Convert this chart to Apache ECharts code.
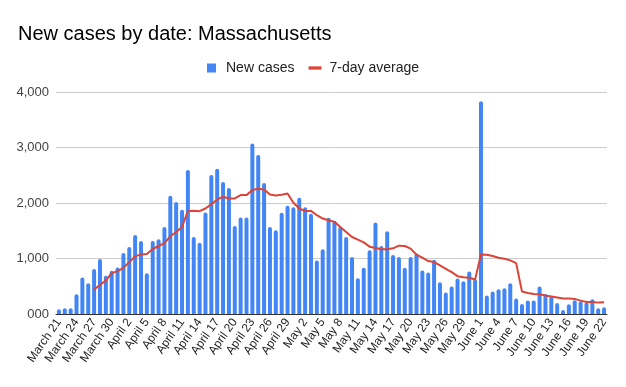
<!DOCTYPE html>
<html>
<head>
<meta charset="utf-8">
<script src="https://cdn.jsdelivr.net/npm/echarts@6/dist/echarts.min.js"></script>
<style>html,body{margin:0;padding:0;background:#fff}#c{width:626px;height:387px}</style>
</head>
<body>
<div id="c"></div>
<script>
// Date categories: March 21 .. June 22
const monthSpans = [["March", 21, 31], ["April", 1, 30], ["May", 1, 31], ["June", 1, 22]];
const categories = [];
monthSpans.forEach(([m, a, b]) => { for (let d = a; d <= b; d++) categories.push(m + " " + d); });

const newCases = [
  85, 103, 103, 356, 658, 555, 809, 990, 688, 778,
  839, 1098, 1207, 1424, 1316, 736, 1316, 1346, 1569, 2130,
  2016, 1877, 2595, 1388, 1285, 1829, 2505, 2619, 2378, 2269,
  1587, 1738, 1738, 3072, 2867, 2360, 1569, 1509, 1823, 1949,
  1925, 2094, 1925, 1805, 966, 1165, 1732, 1678, 1569, 1388,
  1026, 646, 833, 1147, 1648, 1225, 1491, 1062, 1026, 833,
  1026, 1092, 785, 748, 978, 573, 386, 495, 640, 591,
  766, 628, 3832, 332, 404, 447, 465, 555, 278, 181,
  241, 241, 495, 362, 314, 199, 72, 175, 247, 229,
  205, 266, 103, 121
];

const avg7 = [
  null, null, null, null, null, null, 435, 525, 603, 736,
  772, 833, 935, 1038, 1074, 1080, 1171, 1225, 1279, 1400,
  1478, 1569, 1853, 1859, 1853, 1901, 1979, 2064, 2112, 2082,
  2082, 2142, 2142, 2233, 2257, 2245, 2155, 2136, 2148, 2172,
  2004, 1901, 1853, 1859, 1780, 1720, 1690, 1660, 1569, 1478,
  1388, 1340, 1291, 1213, 1189, 1165, 1165, 1183, 1231, 1225,
  1177, 1068, 1014, 954, 935, 875, 815, 754, 682, 664,
  652, 622, 1074, 1068, 1044, 1014, 996, 966, 917, 404,
  380, 362, 356, 332, 314, 296, 278, 278, 272, 241,
  217, 217, 205, 211
];

const yTicks = [0, 1000, 2000, 3000, 4000];

const chart = echarts.init(document.getElementById('c'));
chart.setOption({
  animation: false,
  backgroundColor: '#fff',
  textStyle: { fontFamily: 'Liberation Sans, Arial, sans-serif' },
  title: {
    text: 'New cases by date: Massachusetts',
    left: 13, top: 19,
    textStyle: { fontSize: 20, fontWeight: 'normal', color: '#000', fontFamily: 'Liberation Sans, Arial, sans-serif' }
  },
  legend: {
    top: 56, left: 'center',
    itemGap: 14,
    symbolKeepAspect: true,
    textStyle: { fontSize: 14, color: '#222', fontFamily: 'Liberation Sans, Arial, sans-serif', padding: [0, 0, 0, 3] },
    itemWidth: 13, itemHeight: 9,
    data: [
      { name: 'New cases', icon: 'path://M0,0h10v10h-10z', itemStyle: { color: '#4285F4' } },
      { name: '7-day average', icon: 'path://M0,0h12v3h-12z', itemStyle: { color: '#DB4437' } }
    ]
  },
  grid: { left: 56, right: 19, top: 92, bottom: 73, containLabel: false },
  xAxis: {
    type: 'category',
    data: categories,
    boundaryGap: true,
    axisLine: { lineStyle: { color: '#333', width: 1 } },
    axisTick: { show: false },
    axisLabel: {
      interval: 2, rotate: 55, fontSize: 12, color: '#222', margin: 6,
      fontFamily: 'Liberation Sans, Arial, sans-serif'
    }
  },
  yAxis: {
    type: 'value',
    min: 0, max: 4000, interval: 1000,
    axisLine: { show: false },
    axisTick: { show: false },
    splitLine: { lineStyle: { color: '#ccc', width: 1 } },
    axisLabel: {
      fontSize: 13, color: '#444', margin: 7,
      fontFamily: 'Liberation Sans, Arial, sans-serif',
      formatter: v => v === 0 ? '000' : v.toLocaleString('en-US')
    }
  },
  series: [
    {
      name: 'New cases', type: 'bar', data: newCases,
      barCategoryGap: '32%',
      itemStyle: { color: '#4285F4', borderRadius: [2, 2, 0, 0] }
    },
    {
      name: '7-day average', type: 'line', data: avg7,
      symbol: 'none', smooth: false,
      lineStyle: { color: '#DB4437', width: 2 },
      itemStyle: { color: '#DB4437' }
    }
  ]
});
</script>
</body>
</html>
